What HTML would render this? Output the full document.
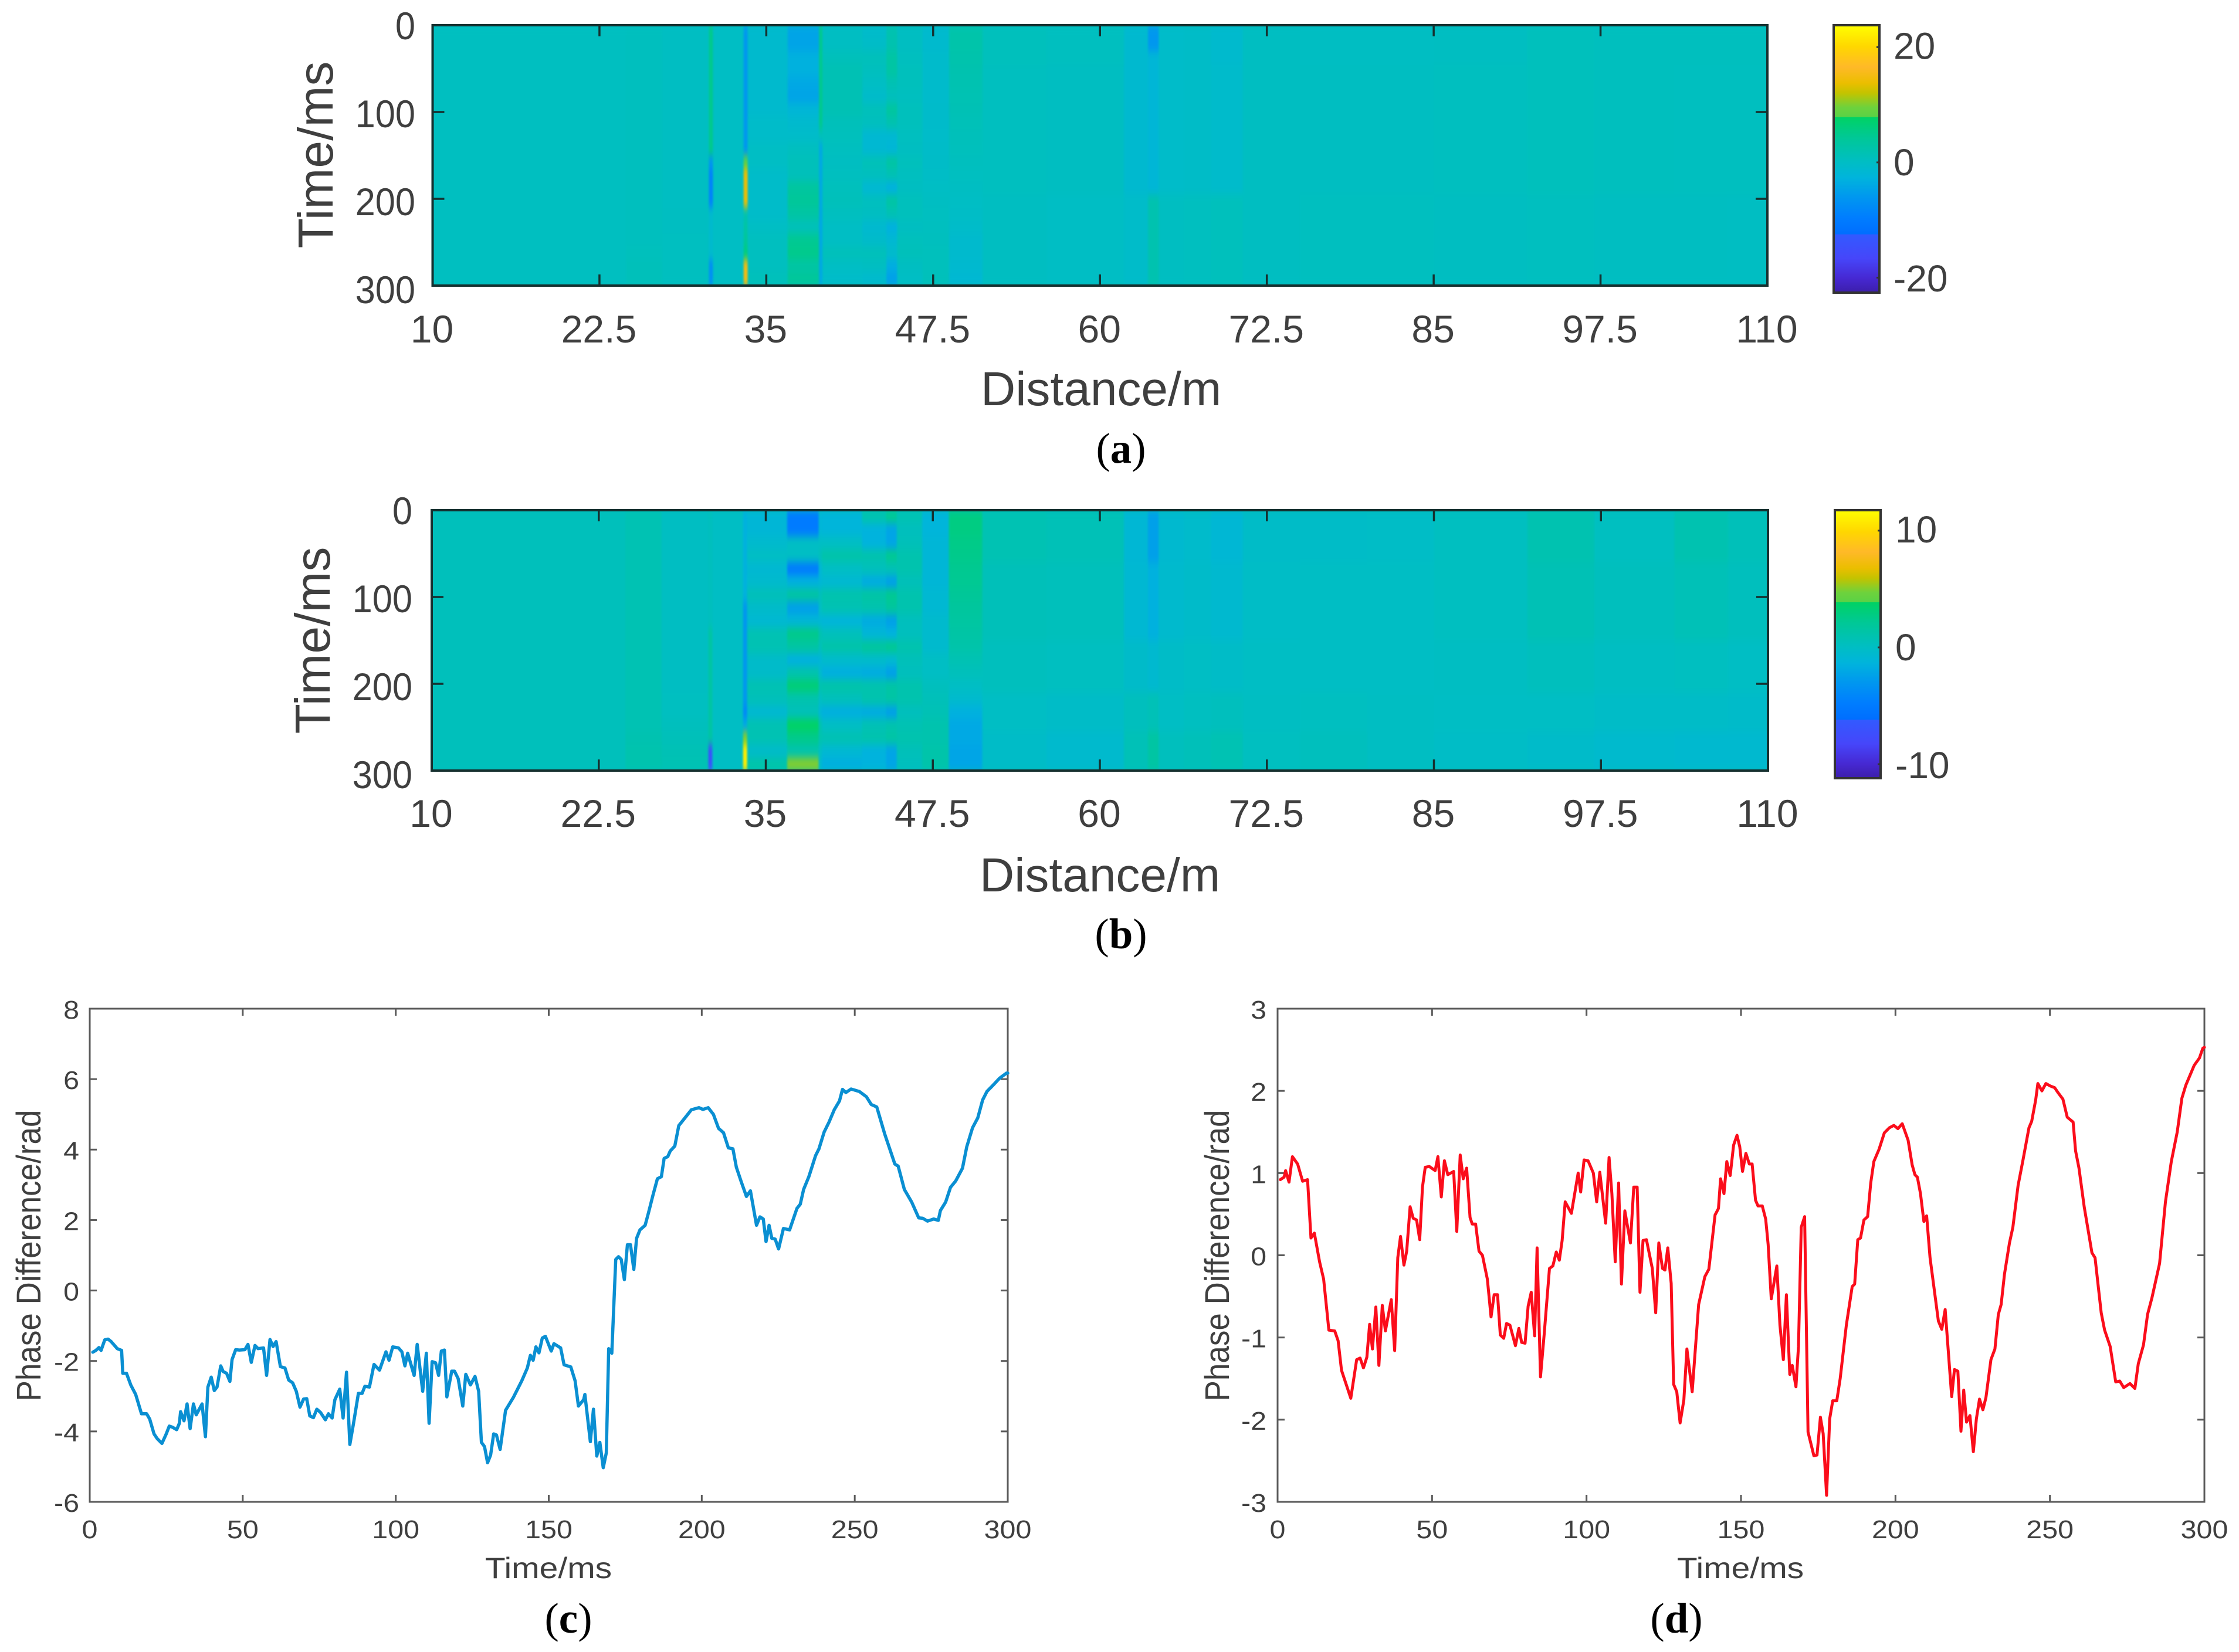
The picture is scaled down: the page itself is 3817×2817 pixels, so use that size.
<!DOCTYPE html>
<html lang="en">
<head>
<meta charset="utf-8">
<title>Phase difference charts</title>
<style>
html,body{margin:0;padding:0;background:#fff;}
svg{display:block;}
text{font-family:"Liberation Sans",sans-serif;fill:#3f3f3f;}
.cap{font-family:"Liberation Serif",serif;fill:#000;font-size:73px;text-anchor:middle;}
.cap tspan{font-weight:bold;}
</style>
</head>
<body>
<svg id="fig" xmlns="http://www.w3.org/2000/svg" width="3817" height="2817" viewBox="0 0 3817 2817">
<defs>
<filter id="soft" x="-2%" y="-10%" width="104%" height="120%" color-interpolation-filters="sRGB"><feGaussianBlur stdDeviation="1.5 7"/></filter>
</defs>
<rect width="3817" height="2817" fill="#fff"/>
<text class="cap" x="1911" y="789">(<tspan>a</tspan>)</text>
<text class="cap" x="1911" y="1617">(<tspan>b</tspan>)</text>
<text class="cap" x="969" y="2784">(<tspan>c</tspan>)</text>
<text class="cap" x="2858" y="2784">(<tspan>d</tspan>)</text>
</svg>
<script>
// ---------- heatmap data ----------
const distanceTicks = [10,22.5,35,47.5,60,72.5,85,97.5,110];
const timeTicks = [0,100,200,300];
const distanceEdges = [10,24.5,27.2,30.7,31,33.3,33.6,36.6,38.95,39.2,42.2,44,44.8,46.7,48.7,51.2,56,61.8,63.6,64.4,66.3,68.3,70.7,75,80,85,92,97,103,107,110];
const timeEdges = [0,15,30,45,60,75,90,105,120,135,150,165,180,195,210,225,240,255,270,285,300];
const colorTicksA = [20,0,-20];
const colorTicksB = [10,0,-10];
const colorLimitsA = [-22.6,23.8];
const colorLimitsB = [-11.2,11.75];
// heatmap values: one list per distance column, each holding 20 time bins
const heatA = [
[.4,.4,.4,.4,.4,.4,.4,.4,.4,.4,.4,.4,.4,.4,.4,.4,.4,.4,.4,.4],
[.6,.6,.6,.6,.6,.6,.6,.6,.6,.6,.6,.6,.6,.6,.6,.6,.6,.8,1,1],
[.2,.2,.2,.2,.2,.2,.2,.2,.2,.2,.2,.2,.2,.2,.3,.3,.4,.4,.5,.5],
[5,5,5,5,5,5,5,5,5,5,-6,-9,-9,-9,-1,-1,-1,-1,-7,-7],
[0,0,0,0,0,0,0,0,0,0,0,0,0,0,0,0,0,0,0,0],
[-6,-6,-6,-6,-6,-6,-6,-6,-6,-6,8,14,14,14,2,3,4,6,15,15],
[-1,-1,-1,-1,-1,-1,-1,-.5,-.5,0,0,-.5,-.5,-.5,-.5,0,.5,.5,.5,1],
[-4.5,-4.5,-3,-3,-4,-4.5,-2,-1,-.5,.5,1,1,3.5,4,3,1,4.5,5,3,4],
[5,5,5,5,5,5,5,5,1,-4,-4,-4,-4,-4,-4,-4,-4,-4,-4,-4],
[.2,.2,1,1.5,1.5,1.5,1.5,1,.8,.5,.3,.5,.8,1,.5,0,0,1,0,-.5],
[-.6,-.3,1,.6,0,-.6,1,.6,-1.5,-1.5,1.2,.6,-1.5,.6,.3,-1.2,-.6,1,.3,-1],
[2,2,3,3,1.5,.7,3.5,2,-1.5,-2,3,1.5,-3,3,1.5,-3,-1.5,-.7,-3.5,-5],
[.3,.3,.5,.8,.8,.5,.8,.8,.5,.3,.8,.5,.3,.8,.8,.3,.8,1,.3,0],
[-1,-1,-.8,-.8,-.8,-.8,-.6,-.6,-.5,-.4,-.3,-.2,0,.2,.4,.5,.6,.8,.8,1],
[2.5,2.5,2.3,2,1.8,1.6,1.4,1.2,1,.8,.6,.4,.2,0,-.2,-.5,-1,-1,-1.2,-1.5],
[.8,.8,.8,.5,.5,.5,.5,.5,.5,.5,.5,.5,.5,.3,.3,.3,.3,.3,.3,.3],
[.5,.5,.5,.3,.3,.3,.3,.3,.3,.3,.3,.3,.3,0,0,0,0,0,0,0],
[-1.2,-1.2,-1.2,-1.2,-1.2,-1.2,-1.2,-1.2,-1.2,-1.2,-1.2,-1.2,-1.2,-.5,-.5,-.5,-.5,-.5,-.5,-.5],
[-6,-6,-2,-2,-2,-2,-2,-2,-2,-2,-2,-2,-2,2,2,2,2,2,2,2],
[-.5,-.5,-.5,-.5,-.5,-.5,-.5,-.5,-.5,-.5,-.5,-.5,-.5,.3,.3,.3,.3,.3,.3,.3],
[-.3,-.3,-.3,-.3,-.3,-.3,-.3,-.3,-.3,-.3,-.3,-.3,-.3,.5,.5,.5,.5,.5,.5,.5],
[-1,-1,-1,-.7,-.7,-.7,-.7,-.7,-.7,-.7,-.7,-.7,-.7,.8,.8,.8,.8,.8,.8,.8],
[.3,.3,.3,.3,.3,.3,.3,.3,.3,.3,.3,.3,.3,.3,.3,.3,.3,.3,.3,.3],
[.2,.2,.2,.3,.3,.3,.3,.3,.3,.3,.3,.3,.3,.5,.5,.5,.5,.5,.5,.5],
[.2,.2,.2,.3,.3,.3,.3,.3,.3,.3,.3,.3,.3,.5,.5,.5,.5,.5,.5,.5],
[.3,.3,.3,.5,.5,.5,.5,.5,.5,.5,.5,.5,.5,.3,.3,.3,.3,.3,.3,.3],
[.8,.8,.8,.8,.8,.8,.8,.8,.8,.8,.8,.8,.8,.5,.5,.5,.5,.5,.5,.5],
[.6,.6,.6,.6,.6,.6,.6,.6,.6,.6,.6,.6,.6,.3,.3,.3,.3,.3,.3,.3],
[.6,.6,.6,.5,.5,.5,.5,.5,.5,.5,.5,.5,.5,.3,.3,.3,.3,.3,.3,.3],
[.6,.6,.6,.5,.5,.5,.5,.5,.5,.5,.5,.5,.5,.2,.2,.2,.2,.2,.2,.2]
];
const heatB = [
[.4,.4,.4,.4,.4,.4,.4,.4,.4,.4,.4,.4,.4,.4,.4,.4,.4,.4,.4,.4],
[.8,.8,.8,.8,.8,.8,.8,.8,.8,.8,.8,.8,.8,.8,.8,.8,.8,.9,1,1],
[.1,.1,.1,.1,.1,.1,.1,.1,.1,.1,.1,.1,.1,.1,.2,.2,.3,.5,.7,.8],
[.3,.3,.3,.3,.3,.3,.3,.3,.3,1.5,1.5,1.5,1.5,1.5,1.5,1.5,1.5,1.5,-7,-7],
[0,0,0,0,0,0,0,0,0,0,0,0,0,0,0,0,0,0,0,0],
[-1.5,-1.5,-1.5,-1.5,-1.5,-1.5,-1.5,-3,-3,-3,-3,-3,-3,-3,-3,-4,-2,5,11,11],
[-1,-1,-.5,0,-.8,-.5,.5,-.3,-.8,.8,.8,-.3,-.3,.8,.5,-.8,.8,.8,-.3,1.2],
[-5,-5,0,0,-5,-1.5,1.5,-2.5,-1,2.5,1.5,-1.5,1,3.2,1,.5,3.8,2.5,1,5],
[-1,-1,0,.5,-1,-1,.5,0,-1,1,.5,-1,-.5,1,0,-1,1,1,0,-.5],
[-1.2,-1.2,0,1.2,0,-.8,1,.8,-1.2,.4,1.2,-.4,-1.6,1.2,.4,-1.6,0,.8,-.8,-1.6],
[1,-1.4,-1.4,1,.4,-1.8,1.4,1,-1.8,-1,1.8,-.4,-1.8,1,1,-1.8,.7,1,-1.4,-1.4],
[2.2,-2.2,-2.2,2.2,.7,-2.5,2.2,1.8,-2.5,-1.4,2.2,-.7,-2.5,1.4,1.4,-2.5,1,1.4,-2.2,-2.2],
[.8,.3,.5,1,1,.5,1,1,.3,.3,1,.5,.3,1,1,.3,.8,1,.5,.3],
[-1.2,-1.2,-1,-1,-1,-1,-.8,-.8,-.5,-.5,-.5,0,0,.3,.5,.7,1,1,1.2,1.2],
[2.8,2.8,2.6,2.5,2.3,2.2,2,1.8,1.6,1.4,1.2,.8,.4,0,-.5,-1.5,-2,-2,-2.2,-2.2],
[.8,.8,.8,.8,.5,.5,.5,.5,.5,.5,.3,.3,.3,.3,0,0,0,-.2,-.2,-.2],
[.6,.6,.6,.6,.4,.4,.4,.4,.4,.4,.2,.2,.2,.2,-.2,-.2,-.2,-.5,-.5,-.5],
[-.9,-.9,-.9,-.9,-.8,-.8,-.8,-.8,-.8,-.8,-.3,-.3,-.3,-.3,.3,.3,.3,.6,.6,.6],
[-2.5,-2.5,-2.5,-2.5,-1.5,-1.5,-1.5,-1.5,-1.5,-1.5,-.6,-.6,-.6,-.6,.6,.6,.6,1.5,1.5,1.5],
[-.6,-.6,-.6,-.6,-.5,-.5,-.5,-.5,-.5,-.5,-.2,-.2,-.2,-.2,0,0,0,.3,.3,.3],
[-.4,-.4,-.4,-.4,-.3,-.3,-.3,-.3,-.3,-.3,0,0,0,0,.2,.2,.2,.5,.5,.5],
[-.9,-.9,-.9,-.9,-.6,-.6,-.6,-.6,-.6,-.6,-.2,-.2,-.2,-.2,.3,.3,.3,.8,.8,.8],
[-.2,-.2,-.2,-.2,-.1,-.1,-.1,-.1,-.1,-.1,0,0,0,0,.1,.1,.1,.2,.2,.2],
[-.2,-.2,-.2,-.2,0,0,0,0,0,0,0,0,0,0,.2,.2,.2,.3,.3,.3],
[-.1,-.1,-.1,-.1,0,0,0,0,0,0,0,0,0,0,.1,.1,.1,.1,.1,.1],
[.2,.2,.2,.2,.2,.2,.2,.2,.2,.2,.1,.1,.1,.1,0,0,0,-.1,-.1,-.1],
[.9,.9,.9,.9,.7,.7,.7,.7,.7,.7,.3,.3,.3,.3,0,0,0,-.3,-.3,-.3],
[.2,.2,.2,.2,.3,.3,.3,.3,.3,.3,.1,.1,.1,.1,-.2,-.2,-.2,-.5,-.5,-.5],
[.9,.9,.9,.9,.6,.6,.6,.6,.6,.6,.2,.2,.2,.2,-.2,-.2,-.2,-.6,-.6,-.6],
[.5,.5,.5,.5,.3,.3,.3,.3,.3,.3,0,0,0,0,-.3,-.3,-.3,-.6,-.6,-.6]
];
// ---------- line chart data ----------
const timeTicksLine = [0,50,100,150,200,250,300];
const phaseTicksC = [8,6,4,2,0,-2,-4,-6];
const phaseTicksD = [3,2,1,0,-1,-2,-3];
const seriesC = [[1,-1.75],[2,-1.7],[3,-1.62],[3.7,-1.7],[4.9,-1.4],[6,-1.38],[7,-1.45],[8,-1.55],[9,-1.65],[10.4,-1.7],[10.8,-2.35],[12,-2.35],[13.4,-2.68],[15,-2.95],[16.9,-3.5],[18.6,-3.5],[19.6,-3.65],[21,-4.07],[22,-4.2],[23.6,-4.34],[25,-4.07],[26,-3.85],[27,-3.88],[28.4,-3.95],[29.3,-3.77],[29.7,-3.44],[30.8,-3.7],[31.8,-3.22],[32.8,-3.92],[33.9,-3.22],[34.8,-3.53],[36.7,-3.22],[37.8,-4.15],[38.6,-2.74],[39.7,-2.46],[40.7,-2.84],[41.6,-2.74],[42.8,-2.14],[43.6,-2.3],[44.7,-2.35],[45.8,-2.58],[46.5,-1.96],[47.7,-1.68],[48.9,-1.69],[50.7,-1.68],[51.7,-1.53],[52.8,-2.04],[54,-1.56],[55,-1.65],[56.8,-1.63],[57.8,-2.41],[58.9,-1.39],[59.9,-1.59],[60.9,-1.45],[62.3,-2.16],[63.8,-2.2],[65,-2.54],[66.3,-2.62],[67.5,-2.86],[68.7,-3.31],[69.9,-3.08],[70.9,-3.07],[71.9,-3.56],[73.1,-3.61],[74.2,-3.37],[75.4,-3.46],[77,-3.67],[78,-3.5],[79.2,-3.62],[80.1,-3.1],[81.7,-2.8],[82.8,-3.62],[83.9,-2.32],[85,-4.37],[86.2,-3.77],[87.8,-2.92],[89,-2.92],[89.9,-2.72],[91.4,-2.74],[92.9,-2.1],[94.7,-2.26],[96.8,-1.74],[97.8,-1.98],[99,-1.6],[100.9,-1.63],[102,-1.74],[103,-2.14],[103.9,-1.78],[106,-2.41],[107,-1.53],[108.8,-2.86],[110,-1.78],[110.9,-3.77],[111.9,-2.02],[113,-2.05],[114,-2.41],[114.9,-1.72],[115.9,-1.69],[116.7,-3.02],[118.3,-2.29],[119.2,-2.29],[120.4,-2.5],[121.9,-3.28],[122.9,-2.38],[124.4,-2.68],[125.9,-2.44],[127.1,-2.86],[128,-4.31],[129,-4.43],[130,-4.89],[131,-4.67],[132,-4.07],[132.9,-4.1],[134.1,-4.51],[135.9,-3.4],[138.4,-3.04],[141.2,-2.56],[143,-2.2],[144,-1.84],[144.9,-1.98],[145.8,-1.6],[146.8,-1.77],[147.9,-1.35],[148.9,-1.3],[150.8,-1.72],[151.7,-1.51],[153.9,-1.63],[155,-2.11],[157.2,-2.17],[158.6,-2.56],[159.7,-3.28],[161.4,-3.1],[161.8,-2.95],[163.6,-4.29],[164.6,-3.37],[165.7,-4.7],[166.7,-4.31],[167.8,-5.03],[168.8,-4.61],[169.6,-1.65],[170.6,-1.78],[171.9,.88],[172.8,.96],[173.7,.88],[174.7,.31],[175.7,1.3],[176.7,1.3],[177.8,.6],[178.7,1.48],[179.8,1.72],[181.5,1.85],[182.6,2.21],[184,2.69],[185.5,3.17],[186.8,3.23],[187.7,3.75],[188.9,3.8],[189.7,3.96],[191.2,4.1],[192.5,4.68],[194.7,4.92],[196.6,5.13],[199.1,5.19],[200.4,5.14],[202.1,5.19],[203.8,5],[205.5,4.6],[207.1,4.48],[208.7,4.05],[210.2,4.02],[211.3,3.5],[212.9,3.09],[214.6,2.67],[215.9,2.83],[217.9,1.85],[219,2.09],[220.1,2.03],[221,1.39],[222,1.85],[222.9,1.48],[224,1.46],[225.1,1.18],[226.7,1.76],[228.7,1.72],[231.1,2.33],[232.2,2.45],[233.3,2.87],[235,3.23],[237.2,3.83],[238.3,4.02],[240,4.5],[241.6,4.78],[243.3,5.13],[245,5.38],[246,5.71],[247.1,5.62],[248.8,5.72],[251.5,5.65],[253.8,5.5],[255.4,5.28],[257.2,5.21],[259.8,4.44],[263.1,3.59],[264.2,3.53],[266.2,2.87],[268.6,2.51],[270.9,2.06],[272.2,2.05],[273.8,1.97],[275.8,2.03],[277.3,1.99],[278,2.27],[279.7,2.51],[281.3,2.93],[283,3.11],[285.2,3.47],[286.6,4.08],[288.5,4.62],[290.2,4.9],[291.8,5.41],[293.2,5.65],[295.2,5.83],[297.4,6.03],[299.6,6.17],[300,6.17]];
const seriesD = [[.9,.92],[2.1,.95],[2.6,1.03],[3.7,.89],[4.8,1.2],[6.5,1.11],[8.1,.9],[9.7,.92],[10.8,.21],[11.9,.27],[13.6,-.08],[14.9,-.29],[16.6,-.91],[18.5,-.92],[19.6,-1.04],[20.7,-1.4],[22.3,-1.58],[23.7,-1.74],[25.6,-1.27],[26.7,-1.25],[27.8,-1.37],[28.9,-1.24],[29.8,-.84],[30.7,-1.14],[31.8,-.63],[32.8,-1.34],[33.9,-.61],[34.9,-.92],[36.8,-.54],[37.9,-1.16],[38.9,-.03],[39.8,.23],[40.9,-.12],[41.8,.05],[42.9,.59],[43.9,.45],[45,.43],[46,.19],[46.9,.83],[47.8,1.07],[49.1,1.08],[51,1.03],[51.9,1.2],[53,.71],[54,1.15],[55.1,.98],[57,1.02],[58,.29],[59.1,1.22],[60.1,.93],[61.2,1.06],[62.3,.46],[63,.38],[64.1,.38],[65.2,.05],[66.3,0],[67.9,-.29],[69.1,-.75],[70.1,-.48],[71.2,-.48],[72.1,-.97],[73.2,-1.01],[74.1,-.83],[75.2,-.85],[77,-1.1],[78.1,-.89],[79,-1.06],[80.1,-1.07],[81.1,-.62],[82.1,-.45],[83.2,-.98],[84,.09],[85.1,-1.48],[86.3,-.96],[88,-.16],[89.1,-.13],[90.2,.04],[91.2,-.06],[92.1,.18],[93.1,.65],[95.1,.51],[97.3,1],[98.1,.77],[99.2,1.16],[100.5,1.15],[102.2,1],[103.3,.65],[104.3,1.01],[106.2,.39],[107.3,1.19],[108.2,.75],[109.3,-.08],[110.4,.88],[111.3,-.35],[112.4,.54],[114.2,.15],[115.3,.83],[116.4,.83],[117.3,-.45],[118.3,.18],[119.4,.19],[121.3,-.16],[122.4,-.7],[123.4,.15],[124.6,-.16],[125.4,-.18],[126.3,.09],[127.4,-.34],[128.2,-1.57],[129.2,-1.66],[130.3,-2.04],[131.5,-1.76],[132.5,-1.14],[134.2,-1.66],[136.3,-.6],[138.3,-.26],[139.6,-.17],[141.6,.49],[142.7,.57],[143.4,.93],[144.5,.75],[145.4,1.14],[146.5,.97],[147.6,1.34],[148.7,1.46],[149.6,1.32],[150.5,1.02],[151.6,1.24],[152.7,1.11],[153.6,1.11],[154.7,.67],[155.5,.6],[156.9,.6],[158,.44],[158.8,.13],[159.8,-.53],[161.6,-.13],[162.6,-.85],[163.7,-1.27],[164.7,-.48],[165.8,-1.45],[166.6,-1.34],[167.8,-1.6],[168.6,-1.11],[169.5,.34],[170.6,.47],[171.7,-2.15],[173.6,-2.44],[174.6,-2.43],[175.7,-1.97],[176.6,-2.17],[177.7,-2.92],[178.7,-1.99],[179.7,-1.77],[181,-1.77],[182.1,-1.5],[184.1,-.85],[186,-.38],[186.8,-.35],[187.8,.19],[188.7,.21],[189.8,.43],[191,.47],[192,.88],[193,1.14],[194.7,1.29],[196.4,1.49],[198,1.55],[199.5,1.58],[200.8,1.54],[202.2,1.6],[204.1,1.4],[205.4,1.1],[206.3,.98],[207.1,.95],[208.1,.75],[209.2,.41],[210.1,.48],[211.2,-.03],[213.9,-.8],[215,-.9],[216.1,-.66],[218.2,-1.72],[219.1,-1.39],[220.2,-1.41],[221.2,-2.14],[222.1,-1.64],[223,-2.03],[224.1,-1.95],[225.2,-2.39],[226.2,-1.99],[227.2,-1.75],[228.3,-1.88],[229.3,-1.73],[230.9,-1.27],[232.2,-1.14],[233.3,-.72],[234.2,-.6],[235.3,-.23],[236.9,.15],[238,.34],[239.7,.85],[241.3,1.16],[243.2,1.55],[244.1,1.63],[245.4,1.89],[246.1,2.09],[247.4,2],[248.7,2.09],[250.1,2.06],[251.5,2.04],[252.8,1.97],[254.2,1.9],[255.6,1.68],[257.5,1.62],[258.3,1.27],[259.4,1.06],[261.1,.59],[263.6,.03],[264.6,-.03],[266.6,-.7],[267.7,-.91],[269.5,-1.11],[271.3,-1.54],[272.6,-1.53],[273.9,-1.61],[275.9,-1.56],[277.5,-1.62],[278.6,-1.32],[280.3,-1.09],[281.6,-.72],[283,-.52],[285.5,-.1],[287.4,.65],[289.3,1.14],[291.2,1.5],[292.7,1.91],[294,2.07],[296.7,2.31],[298.4,2.4],[299.5,2.52],[300,2.53]];

// colormap stops: position (0 bottom, 1 top) and RGB
const cmapPos = [0,.053,.128,.217,.219,.279,.354,.43,.49,.58,.656,.657,.693,.746,.784,.844,.92,1];
const cmapRGB = [[60,30,170],[70,40,210],[70,70,250],[50,90,255],[0,110,255],[0,125,255],[0,150,240],[0,180,220],[0,190,195],[0,200,150],[0,210,100],[90,210,70],[110,210,60],[195,195,0],[235,190,0],[255,185,40],[255,215,0],[255,255,0]];

const NS = 'http://www.w3.org/2000/svg';
const fig = document.getElementById('fig');
function mk(tag, attrs, parent) {
  const el = document.createElementNS(NS, tag);
  for (const k in attrs) el.setAttribute(k, attrs[k]);
  (parent || fig).appendChild(el);
  return el;
}
function linearScale(d0, d1, r0, r1) {
  return v => r0 + (v - d0) * (r1 - r0) / (d1 - d0);
}
function colorFor(v, limits) {
  const t = Math.max(0, Math.min(1, (v - limits[0]) / (limits[1] - limits[0])));
  let i = 0;
  while (i < cmapPos.length - 2 && t > cmapPos[i + 1]) i++;
  const f = (t - cmapPos[i]) / (cmapPos[i + 1] - cmapPos[i]);
  const c = cmapRGB[i].map((a, j) => Math.round(a + (cmapRGB[i + 1][j] - a) * f));
  return 'rgb(' + c.join(',') + ')';
}

function drawHeatPanel(p) {
  const g = mk('g', {});
  
  
  const x = linearScale(10, 110, p.left, p.right);
  const y = linearScale(0, 300, p.top, p.bottom);
  const clipId = p.name + '-clip';
  const clip = mk('clipPath', {id: clipId}, g);
  mk('rect', {x: p.left, y: p.top, width: p.right - p.left, height: p.bottom - p.top}, clip);
  const holder = mk('g', {'clip-path': 'url(#' + clipId + ')'}, g);
  const backing = mk('rect', {x: p.left, y: p.top, width: p.right - p.left, height: p.bottom - p.top, fill: colorFor(.3, p.limits)}, holder);
  
  
  const cells = mk('g', {filter: 'url(#soft)'}, holder);
  p.heat.forEach((column, c) => {
    column.forEach((v, r) => {
      const x0 = x(distanceEdges[c]), x1 = x(distanceEdges[c + 1]);
      const y0 = y(timeEdges[r]), y1 = y(timeEdges[r + 1]);
      const cell = mk('rect', {x: x0, y: y0, width: x1 - x0 + .6, height: y1 - y0 + .6, fill: colorFor(v, p.limits)}, cells);
      
      
    });
  });
  const frame = mk('rect', {x: p.left, y: p.top, width: p.right - p.left, height: p.bottom - p.top, fill: 'none', stroke: '#16302f', 'stroke-width': 4}, g);
  
  
  distanceTicks.forEach(d => {
    const px = x(d);
    if (d !== 10 && d !== 110) {
      const t1 = mk('line', {x1: px, x2: px, y1: p.top, y2: p.top + 19, stroke: '#16302f', 'stroke-width': 3.5}, g);
      
      
      const t2 = mk('line', {x1: px, x2: px, y1: p.bottom, y2: p.bottom - 19, stroke: '#16302f', 'stroke-width': 3.5}, g);
      
      
    }
    const lab = mk('text', {x: px - 1, y: p.xBase, 'font-size': 66, 'text-anchor': 'middle'}, g);
    lab.textContent = String(d);
    
    
  });
  timeTicks.forEach(t => {
    const py = y(t);
    if (t !== 0 && t !== 300) {
      const t1 = mk('line', {x1: p.left, x2: p.left + 20, y1: py, y2: py, stroke: '#16302f', 'stroke-width': 3.5}, g);
      
      
      const t2 = mk('line', {x1: p.right, x2: p.right - 20, y1: py, y2: py, stroke: '#16302f', 'stroke-width': 3.5}, g);
      
      
    }
    const baseline = py + 24 + 6 * t / 300;
    const lab = mk('text', {transform: 'translate(' + p.yRight + ',' + baseline + ') scale(.93,1)', 'font-size': 66, 'text-anchor': 'end'}, g);
    lab.textContent = String(t);
    
    
  });
  const xt = mk('text', {x: p.xTitleLeft, y: p.xTitleBase, 'font-size': 82}, g);
  xt.textContent = 'Distance/m';
  
  
  const yt = mk('text', {transform: 'translate(' + p.yTitleX + ',' + p.yTitleY + ') rotate(-90)', 'font-size': 84, 'text-anchor': 'middle'}, g);
  yt.textContent = 'Time/ms';
  
  
  const gradId = p.name + '-grad';
  const grad = mk('linearGradient', {id: gradId, x1: 0, x2: 0, y1: 1, y2: 0}, g);
  cmapPos.forEach((pos, i) => {
    mk('stop', {offset: pos, 'stop-color': 'rgb(' + cmapRGB[i].join(',') + ')'}, grad);
  });
  const cb = mk('rect', {x: p.cbLeft, y: p.cbTop, width: p.cbRight - p.cbLeft, height: p.cbBottom - p.cbTop, fill: 'url(#' + gradId + ')', stroke: '#333', 'stroke-width': 4}, g);
  
  
  const cy = linearScale(p.limits[0], p.limits[1], p.cbBottom, p.cbTop);
  p.colorTicks.forEach(v => {
    const tk = mk('line', {x1: p.cbRight, x2: p.cbRight - 5, y1: cy(v), y2: cy(v), stroke: '#333', 'stroke-width': 3}, g);
    
    
    const frac = (v - p.limits[0]) / (p.limits[1] - p.limits[0]);
    const lab = mk('text', {x: p.cbLabelX, y: cy(v) + 24 - 4 * frac, 'font-size': 64}, g);
    lab.textContent = String(v);
    
    
  });
}

function drawLinePanel(p) {
  const g = mk('g', {});
  
  
  const x = linearScale(0, 300, p.left, p.right);
  const y = linearScale(p.yMin, p.yMax, p.bottom, p.top);
  const frame = mk('rect', {x: p.left, y: p.top, width: p.right - p.left, height: p.bottom - p.top, fill: 'none', stroke: '#5a5a5a', 'stroke-width': 3}, g);
  
  
  timeTicksLine.forEach(t => {
    const px = x(t);
    if (t !== 0 && t !== 300) {
      const t1 = mk('line', {x1: px, x2: px, y1: p.top, y2: p.top + 12, stroke: '#5a5a5a', 'stroke-width': 3}, g);
      
      
      const t2 = mk('line', {x1: px, x2: px, y1: p.bottom, y2: p.bottom - 12, stroke: '#5a5a5a', 'stroke-width': 3}, g);
      
      
    }
    const lab = mk('text', {transform: 'translate(' + px + ',2623) scale(1.1,1)', 'font-size': 44, 'text-anchor': 'middle'}, g);
    lab.textContent = String(t);
    
    
  });
  p.yTicks.forEach(v => {
    const py = y(v);
    if (v !== p.yMin && v !== p.yMax) {
      const t1 = mk('line', {x1: p.left, x2: p.left + 12, y1: py, y2: py, stroke: '#5a5a5a', 'stroke-width': 3}, g);
      
      
      const t2 = mk('line', {x1: p.right, x2: p.right - 12, y1: py, y2: py, stroke: '#5a5a5a', 'stroke-width': 3}, g);
      
      
    }
    const lab = mk('text', {transform: 'translate(' + p.yRight + ',' + (py + 17) + ') scale(1.1,1)', 'font-size': 44, 'text-anchor': 'end'}, g);
    lab.textContent = String(v);
    
    
  });
  const xt = mk('text', {transform: 'translate(' + p.xTitleX + ',2691) scale(1.14,1)', 'font-size': 50, 'text-anchor': 'middle'}, g);
  xt.textContent = 'Time/ms';
  
  
  const yt = mk('text', {transform: 'translate(' + p.yTitleX + ',2141) scale(1.1,1) rotate(-90)', 'font-size': 53, 'text-anchor': 'middle'}, g);
  yt.textContent = 'Phase Difference/rad';
  
  
  const pts = p.series.map(d => x(d[0]).toFixed(1) + ',' + y(d[1]).toFixed(1)).join(' ');
  const line = mk('polyline', {points: pts, fill: 'none', stroke: p.color, 'stroke-width': p.width, 'stroke-linejoin': 'round', 'stroke-linecap': 'round'}, g);
  
  
}

drawHeatPanel({name:'heatmap-a', heat:heatA, limits:colorLimitsA, colorTicks:colorTicksA, left:737.5, right:3013, top:43, bottom:487, xBase:584, yRight:708, xTitleLeft:1672, xTitleBase:691, yTitleX:567, yTitleY:264, cbLeft:3126, cbRight:3204, cbTop:43, cbBottom:499, cbLabelX:3228});
drawHeatPanel({name:'heatmap-b', heat:heatB, limits:colorLimitsB, colorTicks:colorTicksB, left:736, right:3014, top:870, bottom:1314, xBase:1410, yRight:703, xTitleLeft:1670, xTitleBase:1520, yTitleX:562, yTitleY:1092, cbLeft:3128, cbRight:3206, cbTop:870, cbBottom:1327, cbLabelX:3231});
drawLinePanel({name:'line-chart-c', series:seriesC, yTicks:phaseTicksC, yMin:-6, yMax:8, left:153, right:1718, top:1720, bottom:2561, yRight:135, xTitleX:935, yTitleX:69, color:'#0a8fd2', width:5.5, lineName:'phase-line-blue'});
drawLinePanel({name:'line-chart-d', series:seriesD, yTicks:phaseTicksD, yMin:-3, yMax:3, left:2178, right:3758, top:1720, bottom:2561, yRight:2159, xTitleX:2967, yTitleX:2095, color:'#fb0d1b', width:5, lineName:'phase-line-red'});
</script>
</body>
</html>
